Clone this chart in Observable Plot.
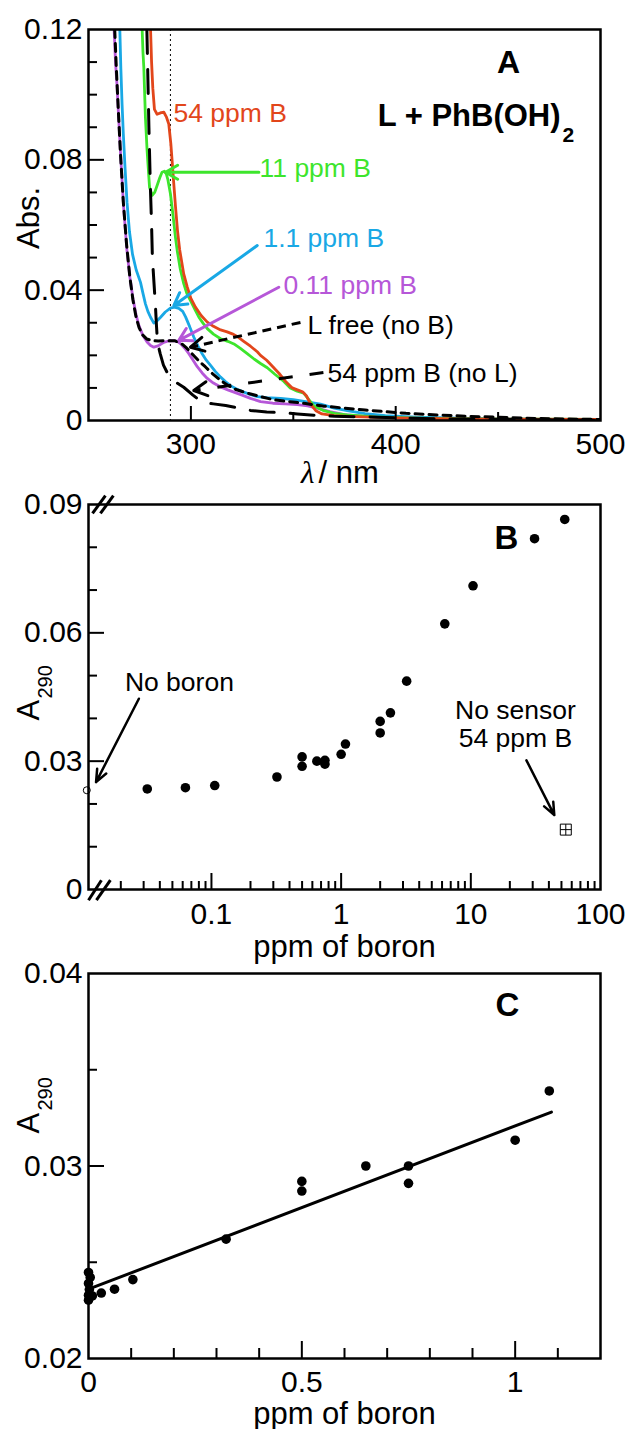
<!DOCTYPE html>
<html><head><meta charset="utf-8">
<script src="https://cdn.jsdelivr.net/npm/d3@7"></script>
<script src="https://cdn.jsdelivr.net/npm/@observablehq/plot@0.6"></script>
<style>
html,body{margin:0;padding:0;background:#fff;}
#chart{width:630px;}
#chart svg{display:block;overflow:visible;}
</style></head><body><div id="chart"></div>
<script>
// ---------------- DATA ----------------
// Panel A: absorbance spectra [wavelength nm, Abs]
const spec54 = [[280.3,0.1200],[280.8,0.1100],[281.4,0.1020],[282.2,0.0955],[283.5,0.0940],[285.5,0.0945],[286.8,0.0946],[288.0,0.0932],[289.2,0.0910],[290.2,0.0850],[290.8,0.0800],[291.6,0.0730],[292.5,0.0655],[293.5,0.0580],[294.5,0.0525],[296.5,0.0450],[298.2,0.0410],[300.0,0.0375],[302.2,0.0348],[305.0,0.0322],[308.0,0.0302],[311.0,0.0289],[314.5,0.0278],[317.7,0.0272],[320.2,0.0266],[322.6,0.0258],[325.8,0.0243],[329.1,0.0228],[332.4,0.0211],[334.0,0.0200],[337.0,0.0185],[340.0,0.0165],[343.0,0.0145],[346.5,0.0118],[349.5,0.0100],[352.0,0.0094],[354.5,0.0088],[356.5,0.0075],[358.4,0.0050],[361.0,0.0030],[364.0,0.0020],[370.0,0.0015],[380.0,0.0012],[400.0,0.0008],[430.0,0.0005],[460.0,0.0004],[500.0,0.0003]];
const spec11 = [[276.2,0.1200],[276.6,0.1130],[277.0,0.1085],[277.8,0.0930],[278.6,0.0830],[279.8,0.0716],[281.1,0.0691],[282.3,0.0700],[283.5,0.0721],[284.8,0.0745],[285.9,0.0762],[287.1,0.0765],[288.0,0.0757],[288.7,0.0741],[290.0,0.0696],[291.2,0.0634],[292.5,0.0560],[293.3,0.0522],[294.8,0.0465],[296.5,0.0420],[298.0,0.0390],[299.8,0.0368],[302.0,0.0340],[303.9,0.0317],[306.0,0.0298],[308.0,0.0282],[311.0,0.0265],[314.5,0.0251],[318.0,0.0243],[321.0,0.0235],[324.0,0.0222],[327.5,0.0205],[331.0,0.0188],[334.0,0.0175],[337.3,0.0162],[341.0,0.0142],[345.4,0.0120],[348.5,0.0100],[351.9,0.0090],[355.1,0.0084],[357.5,0.0065],[360.0,0.0045],[364.9,0.0030],[370.0,0.0022],[376.3,0.0017],[390.0,0.0011],[410.0,0.0007],[440.0,0.0005],[470.0,0.0004],[500.0,0.0003]];
const spec1_1 = [[265.3,0.1200],[265.8,0.1080],[266.4,0.0970],[267.0,0.0880],[267.8,0.0780],[268.8,0.0670],[270.0,0.0580],[271.5,0.0510],[273.3,0.0462],[275.4,0.0424],[276.6,0.0390],[277.8,0.0358],[279.0,0.0335],[280.3,0.0317],[281.9,0.0299],[283.5,0.0306],[285.2,0.0317],[287.5,0.0333],[290.0,0.0345],[292.0,0.0348],[294.1,0.0344],[296.0,0.0335],[297.4,0.0318],[299.4,0.0288],[301.4,0.0256],[303.5,0.0228],[305.5,0.0205],[307.5,0.0185],[309.6,0.0169],[312.0,0.0150],[314.5,0.0133],[317.0,0.0119],[319.3,0.0107],[322.5,0.0096],[325.8,0.0087],[329.0,0.0080],[332.4,0.0073],[337.0,0.0070],[343.8,0.0068],[350.0,0.0064],[356.0,0.0058],[363.3,0.0050],[370.0,0.0038],[376.3,0.0030],[385.0,0.0021],[395.0,0.0015],[410.0,0.0010],[430.0,0.0007],[460.0,0.0004],[500.0,0.0002]];
const spec0_11 = [[262.5,0.1200],[263.2,0.1100],[263.9,0.1030],[264.8,0.0920],[265.9,0.0790],[267.2,0.0650],[268.8,0.0520],[270.2,0.0440],[271.7,0.0375],[273.2,0.0325],[274.7,0.0290],[276.5,0.0262],[278.6,0.0241],[280.3,0.0230],[281.9,0.0225],[284.0,0.0229],[286.8,0.0240],[289.0,0.0244],[291.7,0.0245],[293.5,0.0242],[294.9,0.0236],[297.0,0.0222],[299.0,0.0205],[301.0,0.0186],[303.1,0.0165],[305.5,0.0146],[308.0,0.0129],[311.0,0.0115],[314.5,0.0103],[318.0,0.0094],[321.0,0.0087],[325.0,0.0078],[329.1,0.0068],[334.0,0.0058],[340.0,0.0053],[346.0,0.0051],[352.0,0.0049],[357.0,0.0045],[362.0,0.0037],[367.9,0.0027],[375.0,0.0018],[383.5,0.0013],[395.0,0.0010],[420.0,0.0006],[450.0,0.0004],[500.0,0.0002]];
const specLfree = [[262.8,0.1200],[263.6,0.1080],[264.5,0.0960],[265.6,0.0820],[267.0,0.0670],[268.6,0.0540],[270.2,0.0440],[271.7,0.0370],[273.2,0.0318],[274.7,0.0285],[276.5,0.0262],[278.5,0.0250],[281.0,0.0245],[284.0,0.0244],[288.0,0.0245],[292.0,0.0245],[295.0,0.0238],[298.0,0.0222],[301.0,0.0202],[304.0,0.0182],[307.0,0.0165],[310.5,0.0144],[314.5,0.0123],[318.0,0.0108],[322.0,0.0095],[327.0,0.0085],[333.0,0.0075],[340.0,0.0064],[348.0,0.0058],[356.0,0.0052],[365.0,0.0044],[375.0,0.0038],[385.0,0.0032],[395.0,0.0027],[405.0,0.0022],[420.0,0.0017],[435.0,0.0013],[450.0,0.0010],[470.0,0.0006],[490.0,0.0004],[500.0,0.0003]];
const specNoL = [[278.5,0.1200],[279.0,0.1050],[279.5,0.0900],[280.2,0.0720],[280.8,0.0600],[281.2,0.0500],[282.0,0.0420],[282.7,0.0350],[283.2,0.0290],[283.7,0.0240],[285.0,0.0205],[286.6,0.0170],[289.0,0.0140],[292.0,0.0120],[296.5,0.0102],[301.0,0.0078],[305.5,0.0056],[311.0,0.0051],[317.0,0.0046],[323.0,0.0039],[329.0,0.0031],[337.0,0.0026],[345.0,0.0024],[352.0,0.0020],[360.0,0.0016],[370.0,0.0013],[385.0,0.0011],[400.0,0.0008],[425.0,0.0005],[450.0,0.0003],[475.0,0.0002],[500.0,0.0001]];
const labelsA = ["54 ppm B", "11 ppm B", "1.1 ppm B", "0.11 ppm B", "L free (no B)", "54 ppm B (no L)"];
const xTicksA = [300, 400, 500];
const yTicksA = [0, 0.04, 0.08, 0.12];

// Panel B: A290 vs ppm of boron (log)
const ppmB  = [0.032, 0.063, 0.106, 0.32, 0.5, 0.5, 0.65, 0.75, 0.75, 1.0, 1.08, 2.0, 2.0, 2.4, 3.2, 6.3, 10.4, 31, 53];
const a290B = [0.0235, 0.0238, 0.0243, 0.0263, 0.0310, 0.0288, 0.0300, 0.0302, 0.0293, 0.0316, 0.0340, 0.0393, 0.0366, 0.0413, 0.0487, 0.0621, 0.0710, 0.0820, 0.0865];
const noBoronA290 = 0.0232;
const noSensorPpm = 54, noSensorA290 = 0.0140;
const xTicksB = [0.1, 1, 10, 100];
const yTicksB = [0, 0.03, 0.06, 0.09];

// Panel C: A290 vs ppm of boron (linear, low range)
const ppmC  = [0, 0.004, 0, 0.002, 0, 0.009, 0, 0.03, 0.061, 0.104, 0.3225, 0.5, 0.5, 0.65, 0.75, 0.75, 1.0, 1.08];
const a290C = [0.02447, 0.02421, 0.0239, 0.02358, 0.02329, 0.02325, 0.02303, 0.0234, 0.0236, 0.0241, 0.0262, 0.0292, 0.0287, 0.0300, 0.0300, 0.0291, 0.03134, 0.0339];
const fitPpm = [0, 1.085];
const fitA290 = [0.0236, 0.0328];
const xTicksC = [0, 0.5, 1];
const yTicksC = [0.02, 0.03, 0.04];

// ---------------- STYLE ----------------
const FONT = "'Liberation Sans', Arial, Helvetica, sans-serif";
const RED = "#e2461b", GREEN = "#3de52c", BLUE = "#19a8e5", PURPLE = "#b657d8";
const W = 630, ML = 88, MR = 30, PW = W - ML - MR;
const STYLE = {fontFamily: FONT, fontSize: "30px", background: "transparent", overflow: "visible", color: "#000"};
const fmt = d => d === 0 ? "0" : String(d);
const TF = 30, AF = 26.5, XT = 31;

function ticksY(vals, len) { return Plot.tickY(vals, {y: d => d, insetRight: PW - len, strokeWidth: 2}); }
function ticksX(vals, len, ph) { return Plot.tickX(vals, {x: d => d, insetTop: ph - len, strokeWidth: 2}); }
function yLabels(vals) { return Plot.axisY(vals, {tickSize: 0, tickPadding: 6, fontSize: TF, tickFormat: fmt, label: null}); }
function xLabels(vals, pad) { return Plot.axisX(vals, {tickSize: 0, tickPadding: pad, fontSize: TF, tickFormat: fmt, label: null}); }
function a290Title(dyA, dySub) {
  return [
    Plot.text(["A"], {text: d => d, frameAnchor: "left", rotate: -90, dx: -50, dy: dyA, textAnchor: "start", lineAnchor: "bottom", fontSize: 31}),
    Plot.text(["290"], {text: d => d, frameAnchor: "left", rotate: -90, dx: -37, dy: dySub, textAnchor: "start", lineAnchor: "bottom", fontSize: 20})
  ];
}

const wingShape = {draw(ctx, l) {
  const a = 28 * Math.PI / 180;
  ctx.moveTo(-Math.sin(a) * l, Math.cos(a) * l);
  ctx.lineTo(0, 0);
  ctx.lineTo(Math.sin(a) * l, Math.cos(a) * l);
}};

// dashed annotation arrows in panel A (shaft dashed, head solid)
const dashArrowsA = [
  {x1: 353.5, y1: 0.0301, x2: 299.8, y2: 0.0225, dash: "9,6"},
  {x1: 364.7, y1: 0.0147, x2: 301.4, y2: 0.0092, dash: "14,17"}
];

// ---------------- PANEL A ----------------
function panelA(sx, sy) {
  const heads = (sx && sy) ? dashArrowsA.map(a => {
    const px1 = sx.apply(a.x1), py1 = sy.apply(a.y1), px2 = sx.apply(a.x2), py2 = sy.apply(a.y2);
    const ang = Math.atan2(px2 - px1, -(py2 - py1)) * 180 / Math.PI;
    return Plot.vector([a], {x: "x2", y: "y2", rotate: ang, length: 15, anchor: "start", shape: wingShape, stroke: "black", strokeWidth: 3});
  }) : [];
  const line = (data, color) => Plot.line(data, {x: d => d[0], y: d => d[1], stroke: color, strokeWidth: 2.8, clip: true});
  return Plot.plot({
    width: W, height: 490, marginTop: 29, marginBottom: 70, marginLeft: ML, marginRight: MR,
    style: STYLE,
    x: {domain: [250, 500]}, y: {domain: [0, 0.12]},
    marks: [
      Plot.ruleX([290], {strokeDasharray: "2,3", strokeWidth: 1}),
      line(spec0_11, PURPLE), line(spec1_1, BLUE), line(spec11, GREEN), line(spec54, RED),
      Plot.line(specNoL, {x: d => d[0], y: d => d[1], stroke: "black", strokeWidth: 3, strokeDasharray: "24,16", clip: true}),
      Plot.line(specLfree, {x: d => d[0], y: d => d[1], stroke: "black", strokeWidth: 3, strokeDasharray: "8,6", clip: true}),
      Plot.arrow([0], {x1: 333.2, y1: 0.0762, x2: 287.6, y2: 0.0762, stroke: GREEN, strokeWidth: 3, headLength: 7, headAngle: 60}),
      Plot.arrow([0], {x1: 332.4, y1: 0.0537, x2: 291.7, y2: 0.0353, stroke: BLUE, strokeWidth: 3, headLength: 7, headAngle: 60}),
      Plot.arrow([0], {x1: 342.9, y1: 0.0409, x2: 294.1, y2: 0.0246, stroke: PURPLE, strokeWidth: 3, headLength: 7, headAngle: 60}),
      ...dashArrowsA.map(a => Plot.link([a], {x1: "x1", y1: "y1", x2: "x2", y2: "y2", stroke: "black", strokeWidth: 3, strokeDasharray: a.dash})),
      ...heads,
      Plot.text([labelsA[0]], {text: d => d, x: 291.5, y: 0.0942, fill: RED, textAnchor: "start", lineAnchor: "middle", fontSize: AF}),
      Plot.text([labelsA[1]], {text: d => d, x: 333.5, y: 0.0773, fill: GREEN, textAnchor: "start", lineAnchor: "middle", fontSize: AF}),
      Plot.text([labelsA[2]], {text: d => d, x: 335.4, y: 0.0559, fill: BLUE, textAnchor: "start", lineAnchor: "middle", fontSize: AF}),
      Plot.text([labelsA[3]], {text: d => d, x: 345.2, y: 0.0414, fill: PURPLE, textAnchor: "start", lineAnchor: "middle", fontSize: AF}),
      Plot.text([labelsA[4]], {text: d => d, x: 356.9, y: 0.0292, fill: "black", textAnchor: "start", lineAnchor: "middle", fontSize: AF}),
      Plot.text([labelsA[5]], {text: d => d, x: 366.7, y: 0.0144, fill: "black", textAnchor: "start", lineAnchor: "middle", fontSize: AF}),
      Plot.text(["A"], {text: d => d, x: 455.1, y: 0.1068, textAnchor: "middle", lineAnchor: "bottom", fontSize: 32, fontWeight: "bold"}),
      Plot.text(["L + PhB(OH)"], {text: d => d, x: 480.5, y: 0.0905, textAnchor: "end", lineAnchor: "bottom", fontSize: 31, fontWeight: "bold"}),
      Plot.text(["2"], {text: d => d, x: 481.4, y: 0.0856, textAnchor: "start", lineAnchor: "bottom", fontSize: 21, fontWeight: "bold"}),
      ticksY([0.01, 0.02, 0.03, 0.05, 0.06, 0.07, 0.09, 0.10, 0.11], 9),
      ticksY([0.04, 0.08], 16),
      ticksX([350, 450], 8, 391),
      ticksX([300, 400], 14, 391),
      Plot.frame({strokeWidth: 2.5}),
      yLabels(yTicksA),
      xLabels(xTicksA, 12),
      Plot.text(["Abs."], {text: d => d, frameAnchor: "left", rotate: -90, dx: -50, dy: -7, textAnchor: "middle", lineAnchor: "bottom", fontSize: 31}),
      Plot.text(["λ"], {text: d => d, frameAnchor: "bottom", dx: -30, dy: 62, textAnchor: "end", lineAnchor: "bottom", fontSize: 31, fontStyle: "italic", fontFamily: "'Liberation Serif', 'DejaVu Serif', serif"}),
      Plot.text(["/ nm"], {text: d => d, frameAnchor: "bottom", dx: -26, dy: 62, textAnchor: "start", lineAnchor: "bottom", fontSize: XT})
    ]
  });
}

// ---------------- PANEL B ----------------
const xMinB = 0.01127;
const squareCross = {draw(ctx, size) {
  const s = Math.sqrt(size) / 2;
  ctx.moveTo(-s, -s); ctx.lineTo(s, -s); ctx.lineTo(s, s); ctx.lineTo(-s, s); ctx.closePath();
  ctx.moveTo(0, -s); ctx.lineTo(0, s); ctx.moveTo(-s, 0); ctx.lineTo(s, 0);
}};
function panelB() {
  const minors = [];
  for (const dec of [0.01, 0.1, 1, 10]) for (let k = 2; k <= 9; k++) minors.push(+(k * dec).toPrecision(3));
  return Plot.plot({
    width: W, height: 468, marginTop: 14, marginBottom: 69, marginLeft: ML, marginRight: MR,
    style: STYLE,
    x: {type: "log", domain: [xMinB, 100]}, y: {domain: [0, 0.09]},
    marks: [
      Plot.dot(ppmB.map((p, i) => ({p, a: a290B[i]})), {x: "p", y: "a", r: 4.8, fill: "black"}),
      Plot.dot([noBoronA290], {x: xMinB * 0.97, y: d => d, r: 3.5, stroke: "black", strokeWidth: 1, fill: "white"}),
      Plot.dot([noSensorA290], {x: noSensorPpm, y: d => d, r: 6.2, symbol: squareCross, stroke: "black", strokeWidth: 1, fill: "none"}),
      Plot.arrow([0], {x1: 0.02756, y1: 0.0446, x2: 0.01289, y2: 0.0251, strokeWidth: 2.5, headLength: 8, headAngle: 45}),
      Plot.arrow([0], {x1: 26.84, y1: 0.0302, x2: 44.03, y2: 0.0174, strokeWidth: 2.5, headLength: 8, headAngle: 45}),
      Plot.text(["No boron"], {text: d => d, x: 0.0215, y: 0.0484, textAnchor: "start", lineAnchor: "middle", fontSize: AF}),
      Plot.text(["No sensor"], {text: d => d, x: 22.1, y: 0.0419, textAnchor: "middle", lineAnchor: "middle", fontSize: AF}),
      Plot.text(["54 ppm B"], {text: d => d, x: 22.1, y: 0.0353, textAnchor: "middle", lineAnchor: "middle", fontSize: AF}),
      Plot.text(["B"], {text: d => d, x: 18.85, y: 0.0797, textAnchor: "middle", lineAnchor: "bottom", fontSize: 33, fontWeight: "bold"}),
      ticksY([0.01, 0.02, 0.04, 0.05, 0.07, 0.08], 9),
      ticksY([0.03, 0.06], 16),
      ticksX(minors, 8, 385),
      ticksX([0.1, 1, 10], 16, 385),
      Plot.frame({strokeWidth: 2.5}),
      Plot.link([0, 1], {x1: i => [0.01210, 0.01393][i], y1: 0.0879, x2: i => [0.01522, 0.01753][i], y2: 0.0921, strokeWidth: 3}),
      Plot.link([0, 1], {x1: i => [0.01127, 0.01298][i], y1: -0.0025, x2: i => [0.01418, 0.01663][i], y2: 0.00217, strokeWidth: 3}),
      yLabels(yTicksB),
      xLabels(xTicksB, 13),
      ...a290Title(23.5, 1.5),
      Plot.text(["ppm of boron"], {text: d => d, frameAnchor: "bottom", dy: 67, textAnchor: "middle", lineAnchor: "bottom", fontSize: XT})
    ]
  });
}

// ---------------- PANEL C ----------------
function panelC() {
  return Plot.plot({
    width: W, height: 471, marginTop: 15, marginBottom: 71, marginLeft: ML, marginRight: MR,
    style: STYLE,
    x: {domain: [0, 1.2]}, y: {domain: [0.02, 0.04]},
    marks: [
      Plot.line(fitPpm.map((p, i) => ({p, a: fitA290[i]})), {x: "p", y: "a", strokeWidth: 3}),
      Plot.dot(ppmC.map((p, i) => ({p, a: a290C[i]})), {x: "p", y: "a", r: 4.8, fill: "black"}),
      Plot.text(["C"], {text: d => d, x: 0.982, y: 0.03778, textAnchor: "middle", lineAnchor: "bottom", fontSize: 33, fontWeight: "bold"}),
      ticksY([0.025, 0.035], 9),
      ticksY([0.03], 16),
      ticksX([0.1, 0.2, 0.3, 0.4, 0.6, 0.7, 0.8, 0.9, 1.1], 10, 385),
      ticksX([0.5, 1.0], 17, 385),
      Plot.frame({strokeWidth: 2.5}),
      yLabels(yTicksC),
      xLabels(xTicksC, 12),
      ...a290Title(-32.5, -55.5),
      Plot.text(["ppm of boron"], {text: d => d, frameAnchor: "bottom", dy: 65, textAnchor: "middle", lineAnchor: "bottom", fontSize: XT})
    ]
  });
}

const chart = document.getElementById("chart");
const first = panelA();
const svgA = panelA(first.scale("x"), first.scale("y"));
chart.append(svgA, panelB(), panelC());
</script></body></html>
